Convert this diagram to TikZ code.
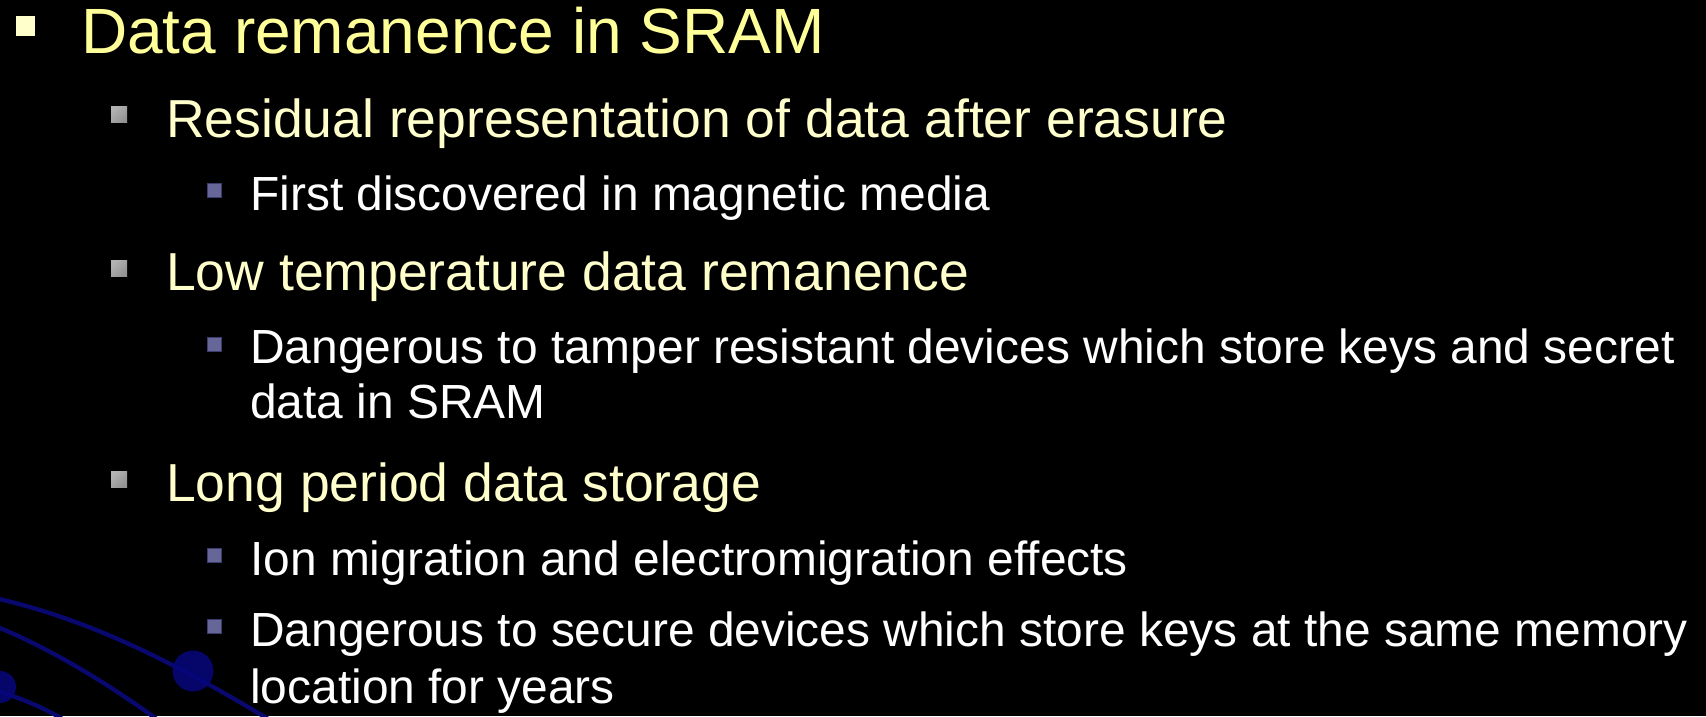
\documentclass[tikz,border=0pt]{standalone}
\usepackage{fontspec}
\setmainfont{Liberation Sans}
\definecolor{lone}{RGB}{255,255,153}
\definecolor{ltwo}{RGB}{255,255,204}
\definecolor{bthree}{RGB}{102,102,153}
\definecolor{bthreeb}{RGB}{60,60,110}
\definecolor{arcblue}{RGB}{8,8,110}
\definecolor{ballblue}{RGB}{6,6,125}
\tikzset{
  tone/.style={anchor=base west, inner sep=0pt, text=lone, font=\fontsize{64}{70}\selectfont},
  ttwo/.style={anchor=base west, inner sep=0pt, text=ltwo, font=\fontsize{53.5}{60}\selectfont},
  tthree/.style={anchor=base west, inner sep=0pt, text=white, font=\fontsize{47.9}{54}\selectfont},
  bone/.style={draw=none, fill=ltwo, minimum size=19.5pt, inner sep=0pt, rectangle},
  btwo/.style={draw=none, left color=gray!60, right color=gray!85!white, shading angle=45, minimum size=16pt, inner sep=0pt, rectangle},
  bthr/.style={draw=bthreeb, line width=0.8pt, fill=bthree, minimum size=14pt, inner sep=0pt, rectangle},
  arcline/.style={draw=arcblue, line width=4.3pt},
  ball/.style={circle, inner sep=0pt, fill=ballblue, fill opacity=0.85}
}
\begin{document}
\begin{tikzpicture}[x=1pt,y=-1pt]
\fill[black] (0,0) rectangle (1706,716);
\useasboundingbox (0,0) rectangle (1706,716);
% decoration
\begin{scope}
\clip (0,0) rectangle (1706,716);
\draw[arcline] (-5,598) .. controls (90,620) and (170,660) .. (270,720);
\draw[arcline] (-5,626) .. controls (50,648) and (110,685) .. (158,720);
\draw[arcline] (-5,690) .. controls (20,698) and (45,708) .. (64,720);
\node[ball, minimum size=41pt] (ballA) at (193,671) {};
\node[ball, minimum size=32pt] (ballB) at (0,687) {};
\end{scope}
% level 1
\node[bone] (b1) at (25.5,26) {};
\node[tone] (t1) at (81,53) {Data remanence in SRAM};
% level 2
\node[btwo] (b2a) at (119,114) {};
\node[ttwo] (t2a) at (166,137) {Residual representation of data after erasure};
\node[btwo] (b2b) at (119,268) {};
\node[ttwo] (t2b) at (166,290) {Low temperature data remanence};
\node[btwo] (b2c) at (119,479) {};
\node[ttwo] (t2c) at (166,501) {Long period data storage};
% level 3
\node[bthr] (b3a) at (214,190) {};
\node[tthree] (t3a) at (250,210) {First discovered in magnetic media};
\node[bthr] (b3b) at (214,344) {};
\node[tthree] (t3b) at (250,363) {Dangerous to tamper resistant devices which store keys and secret};
\node[tthree] (t3c) at (250,418) {data in SRAM};
\node[bthr] (b3c) at (214,555) {};
\node[tthree] (t3d) at (250,575) {Ion migration and electromigration effects};
\node[bthr] (b3d) at (214,626) {};
\node[tthree] (t3e) at (250,646) {Dangerous to secure devices which store keys at the same memory};
\node[tthree] (t3f) at (250,703) {location for years};
\end{tikzpicture}
\end{document}
